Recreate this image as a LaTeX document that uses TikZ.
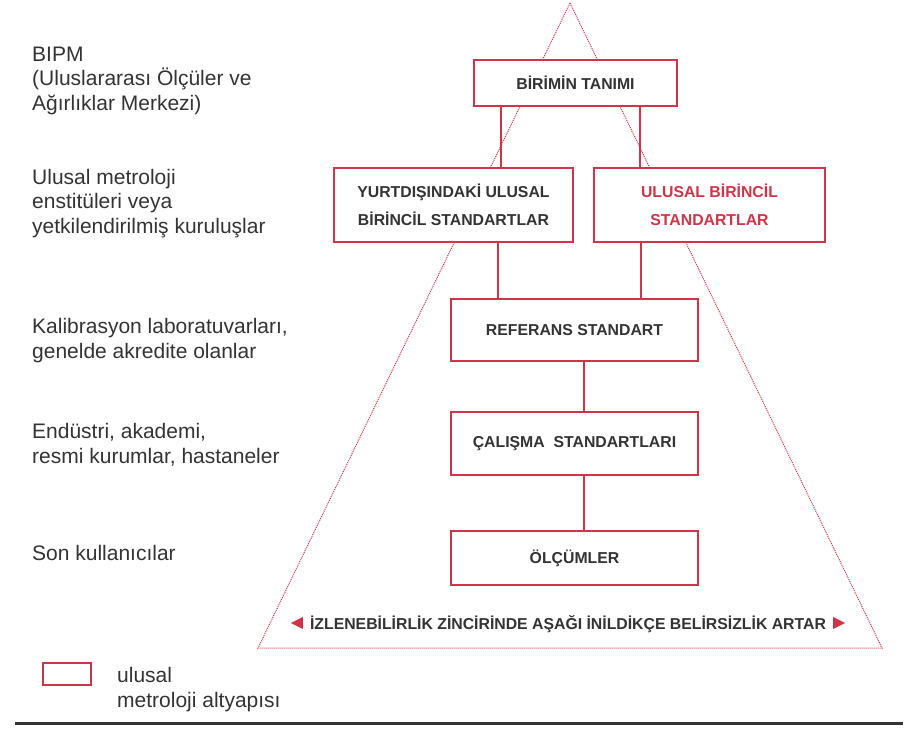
\documentclass[tikz,border=0pt]{standalone}
\usepackage{fontspec}
\setmainfont{Liberation Sans}
\usepackage{tikz}

\definecolor{metred}{RGB}{208,52,72}
\definecolor{metgray}{RGB}{51,51,51}

\begin{document}
\begin{tikzpicture}[x=1pt, y=-1pt,
	box/.style={draw=metred, line width=2.4pt, fill=white, inner sep=0pt,
		font=\bfseries\fontsize{15.8}{28}\selectfont, text=metgray, align=center},
	link/.style={draw=metred, line width=2pt},
	side/.style={anchor=base west, inner sep=0pt, align=left, text=metgray,
		font=\fontsize{21}{24.5}\selectfont},
	tri/.style={draw=metred, line width=1pt, dash pattern=on 1pt off 1pt}]
					\useasboundingbox (0,0) rectangle (913,740);
					
					% Draw dotted triangle of the chain
					\draw[tri] (570,3) -- (258,648) -- (882,648) -- cycle;
					
					% Draw boxes of the chain
					\node[box, minimum width=203, minimum height=46] (tanim) at (575.5,83) {BİRİMİN TANIMI};
					\node[box, minimum width=239, minimum height=74] (yurtdisi) at (453.5,205) {YURTDIŞINDAKİ ULUSAL\\BİRİNCİL STANDARTLAR};
					\node[box, minimum width=231, minimum height=74, text=metred] (ulusal) at (709.5,205) {ULUSAL BİRİNCİL\\STANDARTLAR};
					\node[box, minimum width=247, minimum height=62] (referans) at (574.5,330) {REFERANS STANDART};
					\node[box, minimum width=247, minimum height=63] (calisma) at (574.5,443.5) {ÇALIŞMA~ STANDARTLARI};
					\node[box, minimum width=247, minimum height=54] (olcum) at (574.5,558) {ÖLÇÜMLER};
					
					% Draw links between boxes
					\draw[link] ([xshift=-74.5pt]tanim.south) -- ([xshift=47.5pt]yurtdisi.north);
					\draw[link] ([xshift=64.5pt]tanim.south) -- ([xshift=-69.5pt]ulusal.north);
					\draw[link] ([xshift=44.5pt]yurtdisi.south) -- ([xshift=-76.5pt]referans.north);
					\draw[link] ([xshift=-68.5pt]ulusal.south) -- ([xshift=66.5pt]referans.north);
					\draw[link] ([xshift=9.5pt]referans.south) -- ([xshift=9.5pt]calisma.north);
					\draw[link] ([xshift=9.5pt]calisma.south) -- ([xshift=9.5pt]olcum.north);
					
					% Draw uncertainty text with markers
					\node[anchor=base, inner sep=0pt, text=metgray, font=\bfseries\fontsize{15.8}{18}\selectfont] (zincir) at (568,629)
						{İZLENEBİLİRLİK ZİNCİRİNDE AŞAĞI İNİLDİKÇE BELİRSİZLİK ARTAR};
					\fill[metred] (zincir.base west) ++(-7,0) -- ++(0,-12) -- ++(-12,6) -- cycle;
					\fill[metred] (zincir.base east) ++(7,0) -- ++(0,-12) -- ++(12,6) -- cycle;
					
					% Draw level labels on the left (placed at last baseline)
					\node[side] (bipm) at (32,110) {BIPM\\(Uluslararası Ölçüler ve\\Ağırlıklar Merkezi)};
					\node[side] (enstitu) at (32,233) {Ulusal metroloji\\enstitüleri veya\\yetkilendirilmiş kuruluşlar};
					\node[side] (kalib) at (32,358) {Kalibrasyon laboratuvarları,\\genelde akredite olanlar};
					\node[side] (endustri) at (32,463) {Endüstri, akademi,\\resmi kurumlar, hastaneler};
					\node[side] (son) at (32,560) {Son kullanıcılar};
					
					% Draw legend
					\node[box, minimum width=48, minimum height=22] (legend) at (67,674) {};
					\node[side] (legtext) at (117,707) {ulusal\\metroloji altyapısı};
					
					% Draw bottom rule
					\coordinate (rulea) at (15,723);
					\coordinate (ruleb) at (903,723);
					\draw[metgray, line width=3pt] (rulea) -- (ruleb);
					\end{tikzpicture}
\end{document}
